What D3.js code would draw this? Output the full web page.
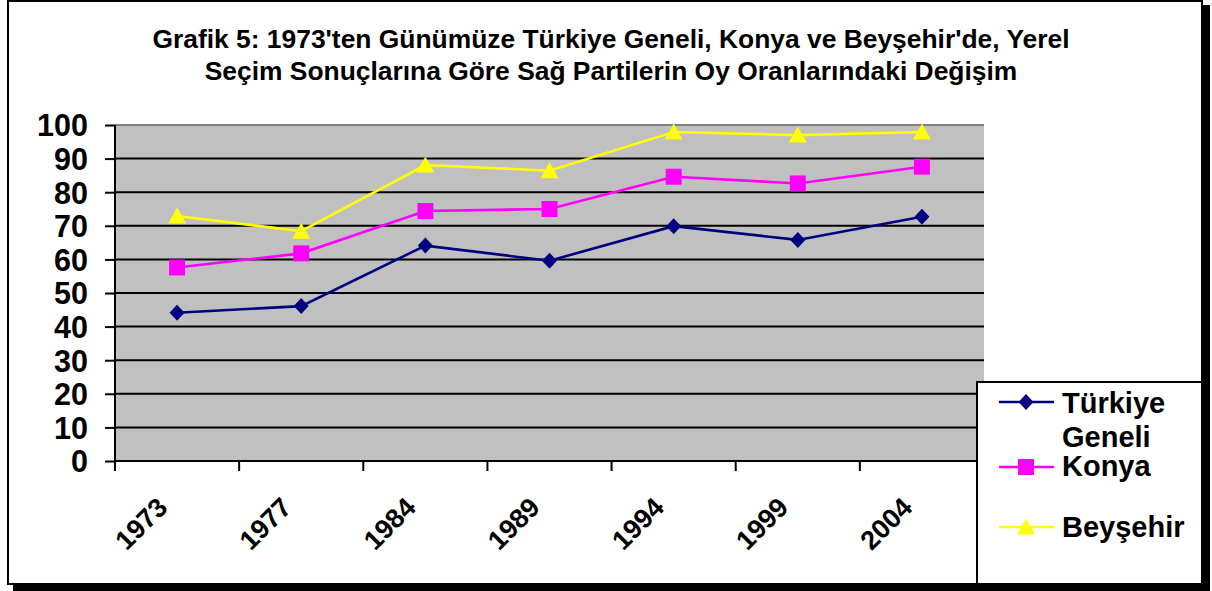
<!DOCTYPE html>
<html>
<head>
<meta charset="utf-8">
<script src="https://cdn.jsdelivr.net/npm/d3@7"></script>
<style>
  html, body { margin: 0; padding: 0; background: #fff; }
  svg { display: block; }
  text { font-family: "Liberation Sans", Arial, sans-serif; font-weight: bold; fill: #000; }
</style>
</head>
<body>
<svg id="chart" width="1212" height="591"></svg>
<script>
const titleLines = [
  "Grafik 5: 1973'ten Günümüze Türkiye Geneli, Konya ve Beyşehir'de, Yerel",
  "Seçim Sonuçlarına Göre Sağ Partilerin Oy Oranlarındaki Değişim"
];
const years = ["1973", "1977", "1984", "1989", "1994", "1999", "2004"];
const turkiye = [44.1, 46.1, 64.1, 59.6, 69.9, 65.8, 72.7];
const konya = [57.6, 61.8, 74.4, 75.0, 84.6, 82.6, 87.6];
const beysehir = [72.9, 68.4, 88.1, 86.4, 97.9, 97.0, 97.9];
const yTicks = [0, 10, 20, 30, 40, 50, 60, 70, 80, 90, 100];
const seriesNames = [["Türkiye", "Geneli"], ["Konya"], ["Beyşehir"]];

const series = [
  { name: seriesNames[0], values: turkiye, color: "#000080", marker: "diamond" },
  { name: seriesNames[1], values: konya, color: "#ff00ff", marker: "square" },
  { name: seriesNames[2], values: beysehir, color: "#ffff00", marker: "triangle" }
];

const svg = d3.select("#chart");
const pLeft = 115, pRight = 984, pTop = 125, pBottom = 461;

const x = d3.scaleBand().domain(years).range([pLeft, pRight]).padding(0);
const y = d3.scaleLinear().domain([0, 100]).range([pBottom, pTop]);

// outer frame with shadow
svg.append("rect").attr("x", 13).attr("y", 585).attr("width", 1197).attr("height", 6).attr("fill", "#000");
svg.append("rect").attr("x", 1203).attr("y", 5).attr("width", 7).attr("height", 586).attr("fill", "#000");
svg.append("rect").attr("x", 8).attr("y", 1).attr("width", 1194).attr("height", 583)
  .attr("fill", "#fff").attr("stroke", "#000").attr("stroke-width", 2);

// title
svg.append("g").selectAll("text").data(titleLines).join("text")
  .attr("x", 611).attr("y", (d, i) => 48 + i * 32)
  .attr("text-anchor", "middle").attr("font-size", 26.4)
  .text(d => d);

// plot area
svg.append("rect").attr("x", pLeft).attr("y", pTop).attr("width", pRight - pLeft).attr("height", pBottom - pTop)
  .attr("fill", "#c0c0c0");

// gridlines
svg.append("g").selectAll("line").data(yTicks.filter(t => t > 0 && t < 100)).join("line")
  .attr("x1", pLeft).attr("x2", pRight).attr("y1", d => y(d)).attr("y2", d => y(d))
  .attr("stroke", "#000").attr("stroke-width", 2);
svg.append("line").attr("x1", pLeft).attr("x2", pRight).attr("y1", y(100)).attr("y2", y(100))
  .attr("stroke", "#808080").attr("stroke-width", 2);

// y axis
const yAxis = d3.axisLeft(y).tickValues(yTicks).tickSize(10).tickPadding(17).tickFormat(d3.format("d"));
const gy = svg.append("g").attr("transform", `translate(${pLeft},0)`).call(yAxis);
gy.select(".domain").remove();
gy.selectAll(".tick line").attr("stroke", "#000").attr("stroke-width", 2);
gy.selectAll(".tick text").attr("font-size", 30.5).attr("font-family", "Liberation Sans, Arial, sans-serif")
  .attr("font-weight", "bold").attr("fill", "#000").attr("dy", "0.36em");
svg.append("line").attr("x1", pLeft).attr("x2", pLeft).attr("y1", pTop).attr("y2", pBottom + 10)
  .attr("stroke", "#000").attr("stroke-width", 2);

// x axis
svg.append("line").attr("x1", pLeft).attr("x2", pRight).attr("y1", pBottom).attr("y2", pBottom)
  .attr("stroke", "#000").attr("stroke-width", 2);
const xTickPos = years.map(d => x(d)).concat([x(years[years.length - 1]) + x.bandwidth()]);
svg.append("g").selectAll("line").data(xTickPos).join("line")
  .attr("x1", d => d).attr("x2", d => d).attr("y1", pBottom).attr("y2", pBottom + 10)
  .attr("stroke", "#000").attr("stroke-width", 2);
svg.append("g").selectAll("text").data(years).join("text")
  .attr("transform", d => `translate(${x(d) + x.bandwidth() / 2 - 8},${509}) rotate(-45)`)
  .attr("text-anchor", "end").attr("font-size", 27)
  .text(d => d);

// markers
function markerPath(type) {
  if (type === "diamond") return "M0,-8L7.5,0L0,8L-7.5,0Z";
  if (type === "square") return "M-8,-8H8V8H-8Z";
  return "M0,-8.5L9,7.5L-9,7.5Z";
}

const line = d3.line().x((d, i) => x(years[i]) + x.bandwidth() / 2).y(d => y(d));
series.forEach(s => {
  svg.append("path").datum(s.values).attr("d", line)
    .attr("fill", "none").attr("stroke", s.color).attr("stroke-width", 2.6);
  svg.append("g").selectAll("path").data(s.values).join("path")
    .attr("transform", (d, i) => `translate(${x(years[i]) + x.bandwidth() / 2},${y(d)})`)
    .attr("d", markerPath(s.marker)).attr("fill", s.color);
});

// legend
const lg = svg.append("g");
lg.append("rect").attr("x", 977).attr("y", 382).attr("width", 225).attr("height", 202)
  .attr("fill", "#fff").attr("stroke", "#000").attr("stroke-width", 2);
const legendRows = [402, 467, 527];
const legendBase = [[413, 447], [476], [537]];
series.forEach((s, i) => {
  const ly = legendRows[i];
  lg.append("line").attr("x1", 999).attr("x2", 1054).attr("y1", ly).attr("y2", ly)
    .attr("stroke", s.color).attr("stroke-width", 2.6);
  lg.append("path").attr("transform", `translate(1026,${ly})`).attr("d", markerPath(s.marker)).attr("fill", s.color);
  s.name.forEach((t, j) => {
    lg.append("text").attr("x", 1062).attr("y", legendBase[i][j]).attr("font-size", 29).text(t);
  });
});
</script>
</body>
</html>
